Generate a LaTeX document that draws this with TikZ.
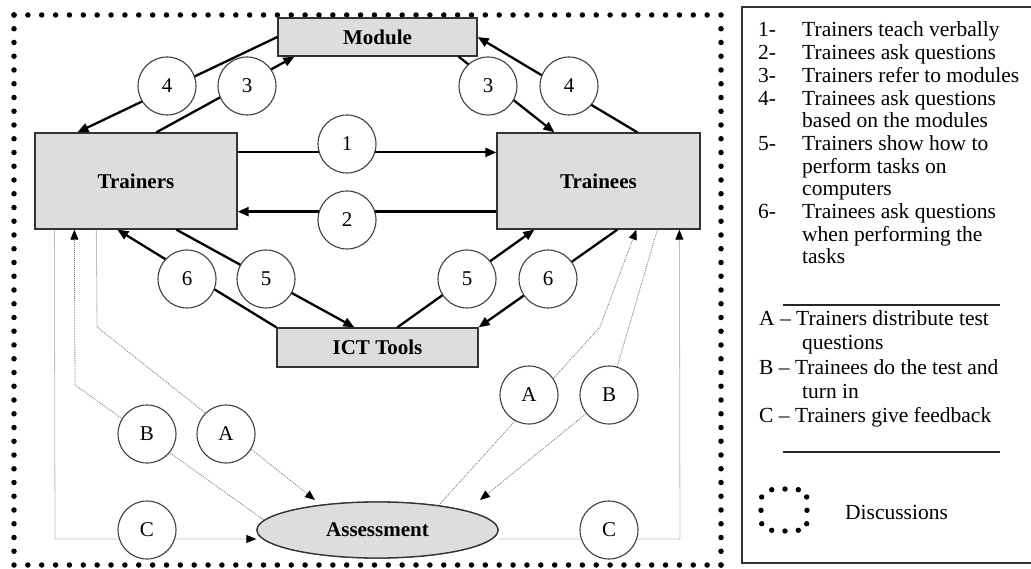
\documentclass[tikz,border=0pt]{standalone}
\usepackage{fontspec}
\setmainfont{Liberation Serif}
\usetikzlibrary{arrows.meta,shapes.geometric,calc}
\definecolor{boxgray}{RGB}{221,221,221}
\definecolor{dotgray}{RGB}{125,125,125}
\begin{document}
\begin{tikzpicture}[x=1pt,y=-1pt,
  every node/.style={font=\fontsize{21}{23.5}\selectfont},
  box/.style={draw=black!80, line width=1.3pt, fill=boxgray, inner sep=0pt,
    font=\bfseries\fontsize{21}{23.5}\selectfont},
  lbl/.style={circle, draw=black!75, line width=1.1pt, fill=white,
    minimum size=58pt, inner sep=0pt},
  bigarrow/.style={line width=2.3pt, -{Triangle[length=11pt,width=9pt]}},
  dotarrow/.style={draw=dotgray, line width=0.8pt, dash pattern=on 1pt off 1pt,
    -{Triangle[length=10pt,width=8pt,color=black]}},
  border/.style={line width=5.5pt, line cap=round},
  legtxt/.style={anchor=base west, inner sep=0pt, font=\fontsize{21.5}{23.5}\selectfont},
  sep/.style={line width=1.2pt, draw=black!85}
]
\useasboundingbox (0,0) rectangle (1031,569);

% discussion border (dotted)
\draw[border, dash pattern=on 0pt off 13.863pt] (14,15) -- (721,15);
\draw[border, dash pattern=on 0pt off 13.75pt] (721,15) -- (721,565);
\draw[border, dash pattern=on 0pt off 13.863pt] (721,565) -- (14,565);
\draw[border, dash pattern=on 0pt off 13.75pt] (14,565) -- (14,15);

% main nodes
\node[box, minimum width=199pt, minimum height=38pt] (module) at (377.5,37) {Module};
\node[box, minimum width=202pt, minimum height=96pt] (trainers) at (136,181) {Trainers};
\node[box, minimum width=203pt, minimum height=96pt] (trainees) at (598.5,181) {Trainees};
\node[box, minimum width=201pt, minimum height=39pt] (ict) at (377.5,347.5) {ICT Tools};

% dotted assessment connectors (behind ellipse)
\coordinate (tipAL) at (315,500);
\coordinate (tipBR) at (480,500);
\coordinate (bRc) at (609,395);
\node[box, ellipse, minimum width=241pt, minimum height=56pt] (assess) at (377.5,530) {};

\draw[dotarrow] ([xshift=62pt]trainers.south west) -- (97,327) -- (tipAL);
\draw[dotarrow] (assess.175) -- (75,385) -- ([xshift=40pt]trainers.south west);
\draw[dotarrow] ([xshift=20pt]trainers.south west) -- (55,539) -- ([yshift=-9pt]assess.west);
\draw[dotarrow] (assess.22) -- (600,327) -- ([xshift=140pt]trainees.south west);
\draw[dotarrow] ([xshift=161pt]trainees.south west) -- (bRc) -- (tipBR);
\draw[dotarrow] ([yshift=-9pt]assess.east) -- (680,539) -- ([xshift=183pt]trainees.south west);

\node[box, ellipse, minimum width=241pt, minimum height=56pt] (assesslbl) at (assess) {Assessment};

% solid connectors
\draw[bigarrow] (module.west) -- ([xshift=43pt]trainers.north west);
\draw[bigarrow] ([xshift=122pt]trainers.north west) -- ([xshift=17pt]module.south west);
\draw[bigarrow] ([xshift=-19pt]module.south east) -- ([xshift=58pt]trainees.north west);
\draw[bigarrow] ([xshift=141pt]trainees.north west) -- (module.east);
\draw[bigarrow] ([yshift=-20pt]trainers.north east) -- ([yshift=-20pt]trainees.north west);
\draw[bigarrow] ([yshift=18pt]trainees.south west) -- ([yshift=18pt]trainers.south east);
\draw[bigarrow] (ict.north west) -- ([xshift=83pt]trainers.south west);
\draw[bigarrow] ([xshift=142pt]trainers.south west) -- ([xshift=78pt]ict.north west);
\draw[bigarrow] ([xshift=121pt]ict.north west) -- ([xshift=38pt]trainees.south west);
\draw[bigarrow] ([xshift=121pt]trainees.south west) -- (ict.north east);

% label circles
\node[lbl] (c4L) at (167,86) {4};
\node[lbl] (c3L) at (247,86) {3};
\node[lbl] (c3R) at (488,86) {3};
\node[lbl] (c4R) at (569,86) {4};
\node[lbl] (c1) at (347,144) {1};
\node[lbl] (c2) at (347,220) {2};
\node[lbl] (c6L) at (187,279) {6};
\node[lbl] (c5L) at (266,279) {5};
\node[lbl] (c5R) at (467,279) {5};
\node[lbl] (c6R) at (548,279) {6};
\node[lbl] (bL) at (147,434) {B};
\node[lbl] (aL) at (226,434) {A};
\node[lbl] (cL) at (147,530) {C};
\node[lbl] (aR) at (529,395) {A};
\node[lbl] (bR) at (bRc) {B};
\node[lbl] (cR) at (609,530) {C};

% legend
\draw[line width=1.3pt, draw=black!80] (742,7) rectangle (1036,563);
\node[legtxt] (n1) at (758,37) {1-};
\node[legtxt] (t1) at (802,37) {Trainers teach verbally};
\node[legtxt] (n2) at (758,59.7) {2-};
\node[legtxt] (t2) at (802,59.7) {Trainees ask questions};
\node[legtxt] (n3) at (758,82.4) {3-};
\node[legtxt] (t3) at (802,82.4) {Trainers refer to modules};
\node[legtxt] (n4) at (758,105.1) {4-};
\node[legtxt] (t4) at (802,105.1) {Trainees ask questions};
\node[legtxt] (t4b) at (802,127.8) {based on the modules};
\node[legtxt] (n5) at (758,150.5) {5-};
\node[legtxt] (t5) at (802,150.5) {Trainers show how to};
\node[legtxt] (t5b) at (802,173.2) {perform tasks on};
\node[legtxt] (t5c) at (802,195.9) {computers};
\node[legtxt] (n6) at (758,218.6) {6-};
\node[legtxt] (t6) at (802,218.6) {Trainees ask questions};
\node[legtxt] (t6b) at (802,241.3) {when performing the};
\node[legtxt] (t6c) at (802,264) {tasks};

\draw[sep] (783,305) -- (1000,305);
\node[legtxt] (la) at (759,326) {A – Trainers distribute test};
\node[legtxt] (la2) at (802,350) {questions};
\node[legtxt] (lb) at (759,374) {B – Trainees do the test and};
\node[legtxt] (lb2) at (802,398) {turn in};
\node[legtxt] (lc) at (759,422) {C – Trainers give feedback};
\draw[sep] (783,452) -- (1000,452);

\begin{scope}[shift={(0,7)}]
\foreach \p in {(761.7,490),(771.7,482.7),(785,482),(798.3,482.7),(806.7,490),(807,503.3),
  (806.7,516.7),(798.3,523.3),(785,524),(771.7,523.3),(761.7,516.7),(761,503.3)}
  \fill \p circle (2.7pt);
\end{scope}
\node[legtxt] (disc) at (845,519) {Discussions};
\end{tikzpicture}
\end{document}
